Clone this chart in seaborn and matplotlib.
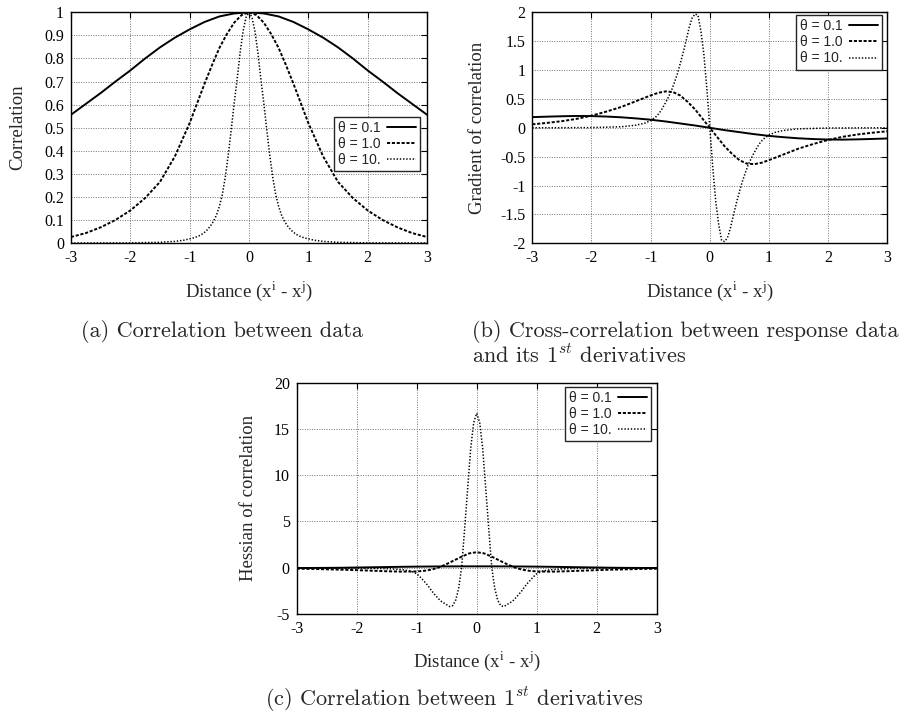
import matplotlib
matplotlib.use("Agg")
import matplotlib.pyplot as plt
import pandas as pd
import seaborn as sns
from matplotlib.ticker import FixedLocator, FixedFormatter

# ---------------- data ----------------
THETA_LABELS = ["θ = 0.1", "θ = 1.0", "θ = 10."]

X_TICKS = [-3, -2, -1, 0, 1, 2, 3]
X_TICK_LABELS = ["-3", "-2", "-1", "0", "1", "2", "3"]
A_Y_TICKS = [0, 0.1, 0.2, 0.3, 0.4, 0.5, 0.6, 0.7, 0.8, 0.9, 1.0]
A_Y_TICK_LABELS = ["0", "0.1", "0.2", "0.3", "0.4", "0.5", "0.6", "0.7", "0.8", "0.9", "1"]
B_Y_TICKS = [-2, -1.5, -1, -0.5, 0, 0.5, 1, 1.5, 2]
B_Y_TICK_LABELS = ["-2", "-1.5", "-1", "-0.5", "0", "0.5", "1", "1.5", "2"]
C_Y_TICKS = [-5, 0, 5, 10, 15, 20]
C_Y_TICK_LABELS = ["-5", "0", "5", "10", "15", "20"]

# distances for theta = 0.1
X_COARSE = [-3, -2.75, -2.5, -2.25, -2, -1.75, -1.5, -1.25, -1, -0.75, -0.5, -0.25, 0,
            0.25, 0.5, 0.75, 1, 1.25, 1.5, 1.75, 2, 2.25, 2.5, 2.75, 3]
# distances for theta = 1.0
X_MID = [-3, -2.75, -2.5, -2.25, -2, -1.75, -1.5, -1.25, -1, -0.875, -0.75, -0.625, -0.5,
         -0.375, -0.25, -0.125, 0, 0.125, 0.25, 0.375, 0.5, 0.625, 0.75, 0.875, 1,
         1.25, 1.5, 1.75, 2, 2.25, 2.5, 2.75, 3]
# distances for theta = 10
X_FINE = [-3, -2, -1.5, -1.25, -1.1, -1, -0.95, -0.9, -0.85, -0.8, -0.75, -0.7, -0.65, -0.6,
          -0.55, -0.5, -0.45, -0.4, -0.35, -0.3, -0.25, -0.2, -0.15, -0.1, -0.05, 0,
          0.05, 0.1, 0.15, 0.2, 0.25, 0.3, 0.35, 0.4, 0.45, 0.5, 0.55, 0.6, 0.65, 0.7,
          0.75, 0.8, 0.85, 0.9, 0.95, 1, 1.1, 1.25, 1.5, 2, 3]

# (a) correlation
CORR_T01 = [0.556, 0.603, 0.65, 0.70, 0.748, 0.80, 0.848, 0.89, 0.926, 0.958, 0.982, 0.995, 1.0,
            0.995, 0.982, 0.958, 0.926, 0.89, 0.848, 0.80, 0.748, 0.70, 0.65, 0.603, 0.556]
CORR_T1 = [0.026, 0.043, 0.068, 0.10, 0.141, 0.195, 0.265, 0.375, 0.52, 0.605, 0.69, 0.77, 0.845,
           0.905, 0.955, 0.988, 1.0, 0.988, 0.955, 0.905, 0.845, 0.77, 0.69, 0.605, 0.52,
           0.375, 0.265, 0.195, 0.141, 0.10, 0.068, 0.043, 0.026]
CORR_T10 = [0.0, 0.0005, 0.003, 0.007, 0.012, 0.018, 0.021, 0.025, 0.030, 0.037, 0.046, 0.058,
            0.074, 0.093, 0.12, 0.158, 0.21, 0.285, 0.38, 0.49, 0.605, 0.71, 0.825, 0.918, 0.978,
            1.0, 0.978, 0.918, 0.825, 0.71, 0.605, 0.49, 0.38, 0.285, 0.21, 0.158, 0.12, 0.093,
            0.074, 0.058, 0.046, 0.037, 0.030, 0.025, 0.021, 0.018, 0.012, 0.007, 0.003, 0.0005, 0.0]

# (b) gradient of correlation
GRAD_T01 = [0.185, 0.193, 0.2, 0.205, 0.203, 0.195, 0.182, 0.163, 0.14, 0.11, 0.075, 0.04, 0.0,
            -0.04, -0.075, -0.11, -0.14, -0.163, -0.182, -0.195, -0.203, -0.205, -0.2, -0.193, -0.185]
GRAD_T1 = [0.06, 0.085, 0.115, 0.155, 0.21, 0.28, 0.36, 0.46, 0.56, 0.605, 0.63, 0.62, 0.56,
           0.45, 0.32, 0.16, 0.0, -0.16, -0.32, -0.45, -0.56, -0.62, -0.63, -0.605, -0.56,
           -0.46, -0.36, -0.28, -0.21, -0.155, -0.115, -0.085, -0.06]
GRAD_T10 = [0.0, 0.004, 0.018, 0.045, 0.08, 0.125, 0.16, 0.20, 0.26, 0.34, 0.43, 0.53, 0.64,
            0.78, 0.93, 1.11, 1.30, 1.51, 1.73, 1.90, 1.97, 1.95, 1.67, 1.27, 0.68, 0.0,
            -0.68, -1.27, -1.67, -1.95, -1.97, -1.90, -1.73, -1.51, -1.30, -1.11, -0.93, -0.78,
            -0.64, -0.53, -0.43, -0.34, -0.26, -0.20, -0.16, -0.125, -0.08, -0.045, -0.018, -0.004, 0.0]

# (c) hessian of correlation
HESS_T01 = [-0.03, -0.025, -0.015, 0.0, 0.025, 0.05, 0.075, 0.1, 0.12, 0.135, 0.145, 0.15, 0.15,
            0.15, 0.145, 0.135, 0.12, 0.1, 0.075, 0.05, 0.025, 0.0, -0.015, -0.025, -0.03]
HESS_T1 = [-0.1, -0.13, -0.17, -0.21, -0.26, -0.32, -0.38, -0.42, -0.4, -0.33, -0.2, 0.05, 0.4,
           0.8, 1.2, 1.55, 1.68, 1.55, 1.2, 0.8, 0.4, 0.05, -0.2, -0.33, -0.4, -0.42, -0.38,
           -0.32, -0.26, -0.21, -0.17, -0.13, -0.1]
HESS_T10 = [0.0, -0.04, -0.1, -0.2, -0.35, -0.65, -0.95, -1.3, -1.65, -2.05, -2.5, -2.9, -3.25,
            -3.6, -3.8, -4.0, -4.2, -4.1, -3.5, -2.2, 0.1, 4.3, 8.6, 12.9, 15.7, 16.7, 15.7,
            12.9, 8.6, 4.3, 0.1, -2.2, -3.5, -4.1, -4.2, -4.0, -3.8, -3.6, -3.25, -2.9, -2.5,
            -2.05, -1.65, -1.3, -0.95, -0.65, -0.35, -0.2, -0.1, -0.04, 0.0]

# ---------------- style ----------------
sns.set_style("white")
plt.rcParams.update({
    "font.family": ["Liberation Serif", "DejaVu Serif"],
    "axes.unicode_minus": False,
    "axes.edgecolor": "black",
    "axes.linewidth": 1.0,
    "xtick.direction": "in",
    "ytick.direction": "in",
    "xtick.top": True,
    "ytick.right": True,
    "xtick.major.size": 4.5,
    "ytick.major.size": 4.5,
    "xtick.major.width": 0.8,
    "ytick.major.width": 0.8,
    "xtick.color": "black",
    "ytick.color": "black",
    "xtick.major.pad": 5,
    "ytick.major.pad": 5,
})

LINE_STYLES = [
    dict(linestyle="-", linewidth=1.4),
    dict(linestyle=(0, (1.6, 0.9)), linewidth=1.4),
    dict(linestyle=(0, (0.9, 1.2)), linewidth=1.1),
]

W, H = 904, 718
fig = plt.figure(figsize=(W / 100, H / 100), dpi=100)


def add_ax(left, top, right, bottom):
    return fig.add_axes([left / W, 1 - bottom / H, (right - left) / W, (bottom - top) / H])


def draw_panel(ax, xs, ys, yticks, yticklabels, ylim, ylabel, ylabel_x, xlabel_y,
               legend_loc, legend_anchor):
    for x, y, lab, st in zip(xs, ys, THETA_LABELS, LINE_STYLES):
        df = pd.DataFrame({"d": x, "v": y})
        sns.lineplot(data=df, x="d", y="v", ax=ax, color="black", label=lab,
                     sort=False, estimator=None, **st)
    ax.set_xlim(-3, 3)
    ax.set_ylim(*ylim)
    ax.xaxis.set_major_locator(FixedLocator(X_TICKS))
    ax.xaxis.set_major_formatter(FixedFormatter(X_TICK_LABELS))
    ax.yaxis.set_major_locator(FixedLocator(yticks))
    ax.yaxis.set_major_formatter(FixedFormatter(yticklabels))
    ax.tick_params(labelsize=11.5)
    ax.grid(True, color="0.45", linestyle=(0, (1, 1.5)), linewidth=0.7)
    for sp in ax.spines.values():
        sp.set_visible(True)
        sp.set_color("black")
        sp.set_linewidth(1.0)
        sp.set_zorder(5)
    ax.set_xlabel(r"Distance (x$^{\mathrm{i}}$ - x$^{\mathrm{j}}$)", fontsize=13.5,
                  math_fontfamily="stix", va="center")
    ax.xaxis.set_label_coords(0.5, xlabel_y)
    ax.set_ylabel(ylabel, fontsize=13.5, va="center")
    ax.yaxis.set_label_coords(ylabel_x, 0.5)
    leg = ax.legend(loc=legend_loc, bbox_to_anchor=legend_anchor, markerfirst=False,
                    frameon=True, fancybox=False, borderaxespad=0, borderpad=0.3,
                    labelspacing=0.15, handlelength=2.1, handletextpad=0.4,
                    prop={"family": ["Liberation Sans", "DejaVu Sans"], "size": 10})
    leg.get_frame().set_edgecolor("0.15")
    leg.get_frame().set_linewidth(1.0)
    leg.get_frame().set_facecolor("white")
    leg.get_frame().set_alpha(1.0)
    leg.set_zorder(10)


ax_a = add_ax(71, 12.3, 427, 243)
draw_panel(ax_a, [X_COARSE, X_MID, X_FINE], [CORR_T01, CORR_T1, CORR_T10],
           A_Y_TICKS, A_Y_TICK_LABELS, (0, 1), "Correlation", -0.150, -0.208,
           "center right", (0.980, 0.429))

ax_b = add_ax(532.3, 12.3, 887.3, 243.3)
draw_panel(ax_b, [X_COARSE, X_MID, X_FINE], [GRAD_T01, GRAD_T1, GRAD_T10],
           B_Y_TICKS, B_Y_TICK_LABELS, (-2, 2), "Gradient of correlation", -0.153, -0.206,
           "upper right", (0.985, 0.988))

ax_c = add_ax(296.7, 382.7, 656.7, 614)
draw_panel(ax_c, [X_COARSE, X_MID, X_FINE], [HESS_T01, HESS_T1, HESS_T10],
           C_Y_TICKS, C_Y_TICK_LABELS, (-5, 20), "Hessian of correlation", -0.135, -0.205,
           "upper right", (0.984, 0.983))

# captions
cap_kw = dict(family="cmr10", fontsize=16, math_fontfamily="cm", va="baseline")
fig.text(222 / W, 1 - 337 / H, "(a) Correlation between data", ha="center", **cap_kw)
fig.text(472 / W, 1 - 337 / H, "(b) Cross-correlation between response data", ha="left", **cap_kw)
fig.text(472 / W, 1 - 363 / H, r"and its 1$^{st}$ derivatives", ha="left", **cap_kw)
fig.text(265 / W, 1 - 706 / H, r"(c) Correlation between 1$^{st}$ derivatives", ha="left", **cap_kw)

fig.savefig("out.png", dpi=100)
